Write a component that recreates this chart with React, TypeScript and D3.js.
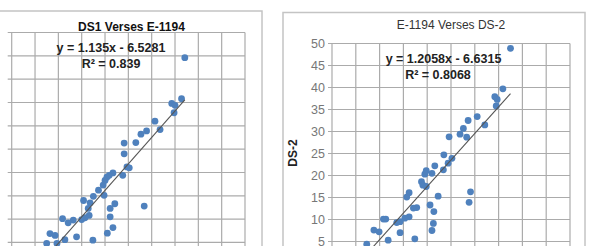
import React from "react";
import * as d3 from "d3";

// left panel: E-1194 on x, DS1 on y
const ds1X = [37.1, 36.4, 34.3, 35.0, 34.8, 30.7, 28.9, 27.7, 31.8, 26.6, 24.1, 24.1, 24.7, 25.2, 21.7, 20.9, 20.4, 20.0, 19.6, 23.8, 18.6, 17.5, 19.8, 15.4, 16.8, 16.4, 22.1, 21.1, 28.4, 21.1, 16.6, 15.7, 15.0, 13.2, 12.1, 10.9, 21.7, 20.5, 13.9, 11.4, 17.4, 8.2, 9.3, 7.5, 9.7];
const ds1Y = [44.6, 35.8, 34.8, 34.4, 32.8, 31.0, 28.9, 28.2, 29.2, 26.4, 26.3, 24.0, 21.2, 21.0, 19.9, 19.4, 19.0, 18.3, 17.3, 19.4, 16.2, 14.9, 15.1, 14.0, 13.5, 12.3, 13.3, 12.3, 12.8, 10.5, 10.8, 10.3, 9.9, 9.8, 9.2, 10.1, 8.2, 7.0, 6.2, 5.6, 5.5, 6.9, 6.5, 4.8, 4.8];

// right panel: E-1194 on x, DS-2 on y
const ds2X = [37.5, 35.9, 34.2, 34.7, 34.5, 30.5, 28.6, 32.1, 27.6, 26.9, 28.3, 24.6, 23.5, 25.2, 24.4, 23.4, 21.6, 21.0, 19.8, 19.5, 18.8, 19.1, 19.8, 22.3, 16.2, 15.7, 20.6, 21.4, 17.8, 17.1, 29.1, 28.8, 16.2, 15.3, 14.3, 13.6, 11.3, 10.8, 21.3, 21.0, 14.3, 8.8, 9.9, 11.8, 17.4, 7.3];
const ds2Y = [48.9, 39.7, 37.9, 37.3, 35.8, 33.4, 32.5, 31.5, 30.7, 29.4, 28.7, 28.8, 24.7, 23.9, 22.8, 21.3, 22.2, 20.5, 21.1, 20.3, 18.6, 17.8, 17.5, 15.3, 16.1, 15.1, 13.3, 11.8, 12.7, 12.6, 16.3, 13.9, 10.6, 10.3, 9.5, 9.3, 10.1, 10.1, 9.1, 7.5, 7.0, 7.6, 7.2, 5.3, 5.6, 4.4];

const axisTicks = [0, 5, 10, 15, 20, 25, 30, 35, 40, 45, 50];

const fit1 = { slope: 1.135, intercept: -6.5281 };
const fit2 = { slope: 1.2058, intercept: -6.6315 };

const FONT = "'Liberation Sans', Arial, sans-serif";
const GRID = "#ababab";
const DOT = "#4f81bd";

interface PanelProps {
  xs: number[];
  ys: number[];
  fit: { slope: number; intercept: number };
  frame: { x: number; y: number; w: number; h: number };
  plot: { left: number; top: number; w: number; h: number };
  title: string;
  titleBold: boolean;
  titlePos: [number, number];
  eq: string;
  eqPos: [number, number];
  r2: string;
  r2Pos: [number, number];
  showTickLabels: boolean;
  yLabel?: string;
  yLabelPos?: [number, number];
}

const Panel: React.FC<PanelProps> = ({
  xs, ys, fit, frame, plot, title, titleBold, titlePos, eq, eqPos, r2, r2Pos, showTickLabels, yLabel, yLabelPos,
}) => {
  const x = d3.scaleLinear().domain([0, 50]).range([plot.left, plot.left + plot.w]);
  const y = d3.scaleLinear().domain([0, 50]).range([plot.top + plot.h, plot.top]);

  const x0 = d3.min(xs) || 0;
  const x1 = d3.max(xs) || 0;
  const trend = d3.line<number>()
    .x((d) => x(d))
    .y((d) => y(fit.slope * d + fit.intercept))([x0, x1]);

  return (
    <g>
      <rect x={frame.x} y={frame.y} width={frame.w} height={frame.h} fill="#fff" stroke="#c4c4c4" strokeWidth={1.5} />

      {/* gridlines */}
      {axisTicks.map((t) => (
        <line key={"v" + t} x1={x(t)} x2={x(t)} y1={y(50)} y2={y(0)} stroke={GRID} strokeWidth={1.2} />
      ))}
      {axisTicks.map((t) => (
        <line key={"h" + t} x1={x(0) - 4} x2={x(50)} y1={y(t)} y2={y(t)} stroke={GRID} strokeWidth={1.2} />
      ))}

      {/* y tick labels (the left panel's fall outside the crop) */}
      {showTickLabels && axisTicks.map((t) => (
        <text key={"l" + t} x={x(0) - 7} y={y(t) + 4.5} textAnchor="end" fontFamily={FONT} fontSize={12.5} fill="#777">
          {t}
        </text>
      ))}

      {xs.map((d, i) => (
        <circle key={i} cx={x(d)} cy={y(ys[i])} r={3.4} fill={DOT} />
      ))}

      <path d={trend || ""} fill="none" stroke="#555" strokeWidth={1.1} />

      <text x={titlePos[0]} y={titlePos[1]} textAnchor="middle" fontFamily={FONT} fontSize={12}
        fontWeight={titleBold ? "bold" : "normal"} fill={titleBold ? "#111" : "#333"}>
        {title}
      </text>
      <text x={eqPos[0]} y={eqPos[1]} textAnchor="middle" fontFamily={FONT} fontSize={12.5} fontWeight="bold" fill="#222">
        {eq}
      </text>
      <text x={r2Pos[0]} y={r2Pos[1]} textAnchor="middle" fontFamily={FONT} fontSize={12.5} fontWeight="bold" fill="#222">
        {r2}
      </text>

      {yLabel && yLabelPos && (
        <text transform={`translate(${yLabelPos[0]},${yLabelPos[1]}) rotate(-90)`} textAnchor="middle"
          fontFamily={FONT} fontSize={12} fontWeight="bold" fill="#222">
          {yLabel}
        </text>
      )}
    </g>
  );
};

export default function App() {
  return (
    <div style={{ position: "fixed", left: 0, top: 0 }}>
      <svg width={590} height={246} style={{ display: "block", background: "#fff" }}>
        <Panel
          xs={ds1X}
          ys={ds1Y}
          fit={fit1}
          frame={{ x: -40, y: 11, w: 302, h: 260 }}
          plot={{ left: 11.7, top: 32.5, w: 233.3, h: 233.3 }}
          title="DS1 Verses E-1194"
          titleBold={true}
          titlePos={[131.5, 30.5]}
          eq="y = 1.135x - 6.5281"
          eqPos={[111, 51.5]}
          r2="R² = 0.839"
          r2Pos={[111, 68]}
          showTickLabels={false}
        />
        <Panel
          xs={ds2X}
          ys={ds2Y}
          fit={fit2}
          frame={{ x: 283, y: 12.5, w: 302, h: 260 }}
          plot={{ left: 332, top: 43.5, w: 238, h: 220 }}
          title="E-1194 Verses DS-2"
          titleBold={false}
          titlePos={[451, 29]}
          eq="y = 1.2058x - 6.6315"
          eqPos={[443.5, 62.5]}
          r2="R² = 0.8068"
          r2Pos={[438, 79]}
          showTickLabels={true}
          yLabel="DS-2"
          yLabelPos={[296.5, 153]}
        />
      </svg>
    </div>
  );
}
